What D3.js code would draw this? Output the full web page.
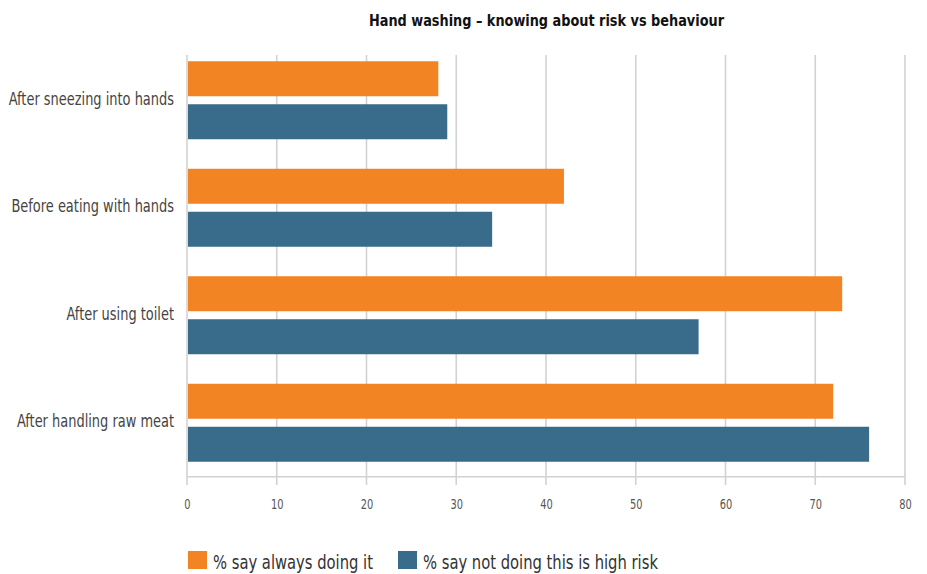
<!DOCTYPE html>
<html><head><meta charset="utf-8">
<script src="https://cdn.jsdelivr.net/npm/d3@7"></script>
<style>
body{margin:0;background:#fff;}
text{font-family:"DejaVu Sans Condensed","Liberation Sans Narrow","Arial Narrow",sans-serif;}
</style></head><body>
<svg id="c" width="927" height="574"></svg>
<script>
const title = "Hand washing – knowing about risk vs behaviour";
const categories = ["After sneezing into hands","Before eating with hands","After using toilet","After handling raw meat"];
const seriesNames = ["% say always doing it","% say not doing this is high risk"];
const alwaysDoing = [28,42,73,72];
const highRisk = [29,34,57,76];
const xTicks = [0,10,20,30,40,50,60,70,80];
const colors = ["#F38423","#396B8A"];

const svg = d3.select("#c");
const x = d3.scaleLinear().domain([0,80]).range([187,905]);
const y = d3.scaleBand().domain(categories).range([46.5,476.5]).padding(0);
const ys = d3.scaleBand().domain([0,1]).range([0,y.bandwidth()]).paddingInner(0.186).paddingOuter(0.343);

// squeeze text horizontally to mimic a condensed face
function squeeze(sel,k){
  sel.each(function(){
    const w = this.getComputedTextLength();
    d3.select(this).attr("textLength",w*k).attr("lengthAdjust","spacingAndGlyphs");
  });
}

// gridlines
svg.append("g").selectAll("line").data(xTicks).join("line")
  .attr("x1",d=>x(d)).attr("x2",d=>x(d)).attr("y1",55).attr("y2",485)
  .attr("stroke","#d2d2d2").attr("stroke-width",1.6);
svg.append("line").attr("x1",x(0)).attr("x2",x(80)).attr("y1",476.7).attr("y2",476.7)
  .attr("stroke","#d2d2d2").attr("stroke-width",1.6);

// x tick labels
const xa = d3.axisBottom(x).tickValues(xTicks).tickSize(0).tickPadding(0);
const gx = svg.append("g").attr("transform","translate(0,509)").call(xa);
gx.select(".domain").remove();
gx.selectAll("text").attr("font-size",14).attr("fill","#555").attr("dy",0).attr("y",0)
  .style("font-family",null).call(squeeze,0.78);

// y category labels
const ya = d3.axisLeft(y).tickSize(0).tickPadding(0);
const gy = svg.append("g").attr("transform","translate(174,0)").call(ya);
gy.select(".domain").remove();
gy.selectAll("text").attr("font-size",17.8).attr("fill","#444").attr("dy","0.25em")
  .style("font-family",null).call(squeeze,0.81);

// bars
const data = [alwaysDoing, highRisk];
data.forEach((vals,si)=>{
  svg.append("g").selectAll("rect").data(vals).join("rect")
    .attr("x",x(0)+1).attr("y",(d,i)=>y(categories[i])+ys(si))
    .attr("width",d=>x(d)-x(0)-1).attr("height",ys.bandwidth())
    .attr("fill",colors[si]);
});

// title
svg.append("text").attr("x",546.5).attr("y",26).attr("text-anchor","middle")
  .attr("font-size",16).attr("font-weight","bold").attr("fill","#111").text(title)
  .call(squeeze,0.894);

// legend
const legX = [188,398];
seriesNames.forEach((n,i)=>{
  svg.append("rect").attr("x",legX[i]).attr("y",551).attr("width",19).attr("height",18).attr("fill",colors[i]);
  svg.append("text").attr("x",legX[i]+25).attr("y",569).attr("font-size",20).attr("fill","#333").text(n)
    .call(squeeze,0.82);
});
</script></body></html>
